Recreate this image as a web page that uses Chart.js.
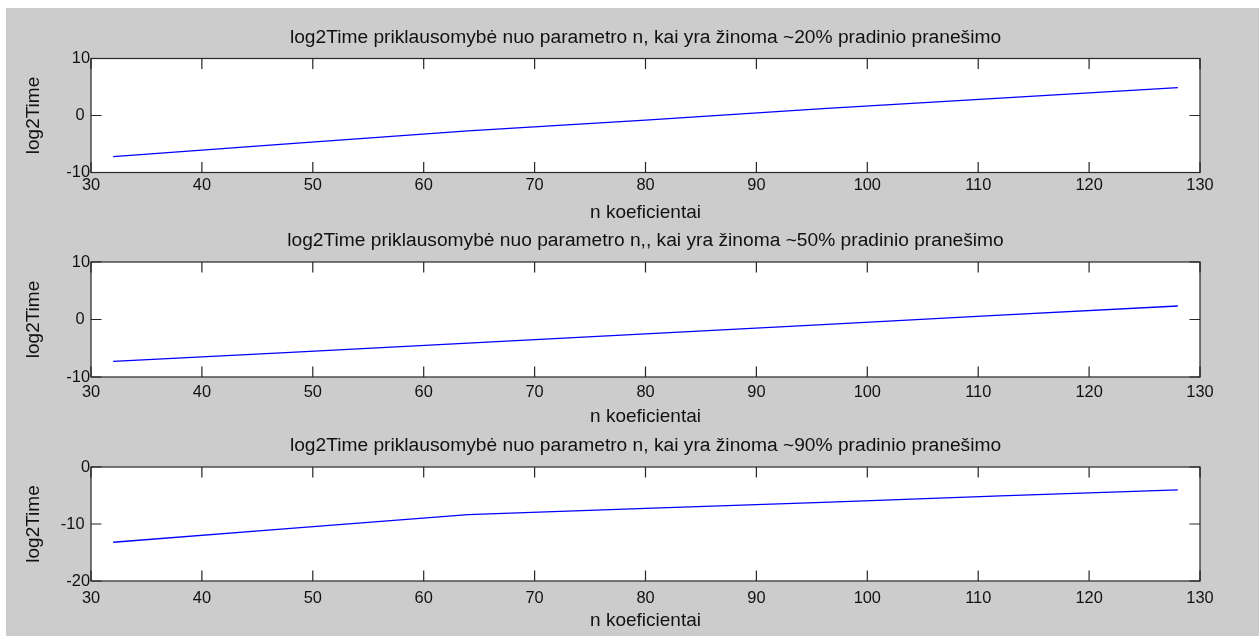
<!DOCTYPE html>
<html>
<head>
<meta charset="utf-8">
<title>log2Time priklausomybė nuo parametro n</title>
<script src="https://cdn.jsdelivr.net/npm/chart.js@4.4.1/dist/chart.umd.min.js"></script>
<style>
  html, body { margin: 0; padding: 0; background: #ffffff; overflow: hidden; }
  #figure { position: absolute; left: 6px; top: 8px; right: 0; bottom: 0; background: #cccccc; }
  canvas { position: absolute; left: 0; }
</style>
</head>
<body>
<div id="figure"></div>
<canvas id="plot1"></canvas>
<canvas id="plot2"></canvas>
<canvas id="plot3"></canvas>
<script>
// Parameter n values where log2Time was evaluated
const nValues = [32, 48, 64, 80, 96, 112, 128];

// log2Time for ~20%, ~50% and ~90% of the initial message known
const log2Time20 = [-7.2, -4.95, -2.7, -0.8, 1.2, 3.05, 4.9];
const log2Time50 = [-7.3, -5.7, -4.1, -2.5, -0.9, 0.75, 2.35];
const log2Time90 = [-13.2, -10.75, -8.35, -7.25, -6.2, -5.05, -4.0];

// Axis ticks
const xTicks = [30, 40, 50, 60, 70, 80, 90, 100, 110, 120, 130];
const yTicks20 = [-10, 0, 10];
const yTicks50 = [-10, 0, 10];
const yTicks90 = [-20, -10, 0];

// Text
const plotTitles = [
  'log2Time priklausomybė nuo parametro n, kai yra žinoma ~20% pradinio pranešimo',
  'log2Time priklausomybė nuo parametro n,, kai yra žinoma ~50% pradinio pranešimo',
  'log2Time priklausomybė nuo parametro n, kai yra žinoma ~90% pradinio pranešimo'
];
const xLabel = 'n koeficientai';
const yLabel = 'log2Time';

// ---- appearance / layout ----
const FONT = "'Liberation Sans', Arial, Helvetica, sans-serif";
const TITLE_SIZE = 19.2;    // subplot titles
const LABEL_SIZE = 19;      // axis labels
const TICK_SIZE = 16.4;     // tick numbers
const TEXT_COLOR = '#111111';
const AXIS_COLOR = '#262626';
const LINE_COLOR = '#0000ff';
const CANVAS_W = 1259;
const PLOT_LEFT = 91;
const PLOT_RIGHT = 1200;
const TICK_LEN = 10.5;
const TITLE_LH = TITLE_SIZE * 1.2;
const LABEL_LH = LABEL_SIZE * 1.2;
const TITLE_GAP = 21.2;     // from title middle to top of axes
const XLABEL_GAP = 40;      // from bottom of axes to x-label middle
const YLABEL_X = 33.7;      // middle of the rotated y-label

const panels = [
  { id: 'plot1', top: 58.5, bottom: 172.5, tickGap: 13, values: log2Time20, yTicks: yTicks20, title: plotTitles[0] },
  { id: 'plot2', top: 262,  bottom: 377,   tickGap: 15, values: log2Time50, yTicks: yTicks50, title: plotTitles[1] },
  { id: 'plot3', top: 467,  bottom: 581,   tickGap: 17, values: log2Time90, yTicks: yTicks90, title: plotTitles[2] }
];

// Axes box with inward ticks on all four sides, white plotting area
const boxedAxes = {
  id: 'boxedAxes',
  beforeDraw(chart) {
    const { ctx, chartArea: a } = chart;
    ctx.save();
    ctx.fillStyle = '#ffffff';
    ctx.fillRect(a.left, a.top, a.right - a.left, a.bottom - a.top);
    ctx.restore();
  },
  afterDatasetsDraw(chart) {
    const { ctx, chartArea: a, scales: { x, y } } = chart;
    ctx.save();
    ctx.strokeStyle = AXIS_COLOR;
    ctx.lineWidth = 1.2;
    ctx.beginPath();
    x.ticks.forEach(t => {
      const px = x.getPixelForValue(t.value);
      ctx.moveTo(px, a.bottom); ctx.lineTo(px, a.bottom - TICK_LEN);
      ctx.moveTo(px, a.top);    ctx.lineTo(px, a.top + TICK_LEN);
    });
    y.ticks.forEach(t => {
      const py = y.getPixelForValue(t.value);
      ctx.moveTo(a.left, py);  ctx.lineTo(a.left + TICK_LEN, py);
      ctx.moveTo(a.right, py); ctx.lineTo(a.right - TICK_LEN, py);
    });
    ctx.stroke();
    ctx.strokeRect(a.left, a.top, a.right - a.left, a.bottom - a.top);
    ctx.restore();
  }
};

panels.forEach(p => {
  const canvas = document.getElementById(p.id);
  const cTop = Math.floor(p.top - TITLE_GAP - TITLE_LH / 2 - 2);
  const cH = Math.ceil(p.bottom + 52 - cTop);
  const xAxisH = cTop + cH - p.bottom;
  canvas.width = CANVAS_W;
  canvas.height = cH;
  canvas.style.top = cTop + 'px';
  canvas.style.width = CANVAS_W + 'px';
  canvas.style.height = cH + 'px';

  const titlePadTop = (p.top - TITLE_GAP) - TITLE_LH / 2 - cTop;
  const titlePadBottom = TITLE_GAP - TITLE_LH / 2;
  const yMin = p.yTicks[0], yMax = p.yTicks[p.yTicks.length - 1];

  new Chart(canvas, {
    type: 'line',
    data: {
      datasets: [{
        data: nValues.map((n, i) => ({ x: n, y: p.values[i] })),
        borderColor: LINE_COLOR,
        borderWidth: 1.3,
        pointRadius: 0,
        tension: 0,
        fill: false
      }]
    },
    options: {
      responsive: false,
      animation: false,
      devicePixelRatio: 1,
      layout: { padding: { left: 0, top: 0, bottom: 0, right: CANVAS_W - PLOT_RIGHT } },
      plugins: {
        legend: { display: false },
        tooltip: { enabled: false },
        title: {
          display: true,
          fullSize: false,
          text: p.title,
          color: TEXT_COLOR,
          font: { family: FONT, size: TITLE_SIZE, weight: 'normal', lineHeight: 1.2 },
          padding: { top: titlePadTop, bottom: titlePadBottom }
        }
      },
      scales: {
        x: {
          type: 'linear',
          position: 'bottom',
          min: xTicks[0],
          max: xTicks[xTicks.length - 1],
          afterBuildTicks: s => { s.ticks = xTicks.map(v => ({ value: v })); },
          afterFit: s => { s.height = xAxisH; },
          grid: { display: false, drawTicks: false },
          border: { display: false },
          ticks: {
            color: TEXT_COLOR,
            font: { family: FONT, size: TICK_SIZE, lineHeight: 1 },
            padding: p.tickGap - TICK_SIZE / 2 + 0.2,
            maxRotation: 0,
            autoSkip: false
          },
          title: {
            display: true,
            text: xLabel,
            color: TEXT_COLOR,
            font: { family: FONT, size: LABEL_SIZE, lineHeight: 1.2 },
            padding: { top: 0, bottom: xAxisH - XLABEL_GAP - LABEL_LH / 2 }
          }
        },
        y: {
          type: 'linear',
          position: 'left',
          min: yMin,
          max: yMax,
          afterBuildTicks: s => { s.ticks = p.yTicks.map(v => ({ value: v })); },
          afterFit: s => { s.width = PLOT_LEFT; },
          grid: { display: false, drawTicks: false },
          border: { display: false },
          ticks: {
            color: TEXT_COLOR,
            font: { family: FONT, size: TICK_SIZE, lineHeight: 1 },
            padding: 1,
            // inner labels sit a little further from the axis than the end labels
            callback: v => (v === yMin || v === yMax) ? String(v) : String(v) + '\u2004'
          },
          title: {
            display: true,
            text: yLabel,
            color: TEXT_COLOR,
            font: { family: FONT, size: LABEL_SIZE, lineHeight: 1.2 },
            padding: { top: YLABEL_X - LABEL_LH / 2, bottom: 0 }
          }
        }
      }
    },
    plugins: [boxedAxes]
  });
});
</script>
</body>
</html>
